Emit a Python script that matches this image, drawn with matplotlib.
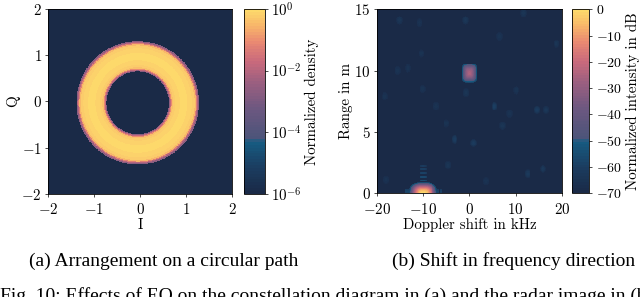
import numpy as np
import matplotlib
matplotlib.use("Agg")
import matplotlib.pyplot as plt
from matplotlib.colors import LinearSegmentedColormap, LogNorm, Normalize

plt.rcParams['font.family'] = 'serif'
plt.rcParams['font.serif'] = ['cmr10']
plt.rcParams['mathtext.fontset'] = 'cm'
plt.rcParams['axes.formatter.use_mathtext'] = True
plt.rcParams['font.size'] = 10.8
plt.rcParams['axes.linewidth'] = 0.6

# (a) ring density: centre, radial bin edges and normalized density per bin
ring_center = (-0.05, -0.03)
ring_r_edges = [0.68, 0.70, 0.72, 0.74, 0.77, 0.82, 0.92, 1.08, 1.18, 1.24, 1.27, 1.29, 1.31, 1.33]
ring_density = [2e-3, 1.5e-2, 0.08, 0.35, 0.6, 0.8, 0.95, 0.8, 0.6, 0.3, 0.06, 1e-2, 2e-3]

# (b) range-doppler map: main peaks (doppler kHz, range m, level dB)
peak_doppler = [-10, 0]
peak_range = [0, 9.8]
peak_level = [0, -25]
# weak spots in the background
spot_doppler = [5.4, 16.6, -3.2, 0.9, 7.1, -0.8, 12.6, 15.9, -15.1, -10.8, -0.9,
                11.7, 18.8, -15.5, -13.3, -10.1, -18.3, -7.2, -5.0, -10.4, 6.5, 8.7,
                -4.6, -18.0, 10.1, 3.6, 14.6]
spot_range = [7.1, 6.8, 4.4, 4.1, 5.5, 8.2, 1.6, 2.0, 14.1, 13.9, 14.1,
              14.7, 12.2, 10.0, 10.2, 8.5, 7.9, 7.1, 5.7, 11.4, 12.8, 6.5,
              2.3, 1.1, 8.4, 1.0, 6.8]
spot_level = [-59, -63, -60, -61, -64, -64, -62, -62, -64, -65, -63,
              -64, -64, -65, -65, -65, -65, -65, -65, -65, -65, -65,
              -64, -65, -65, -65, -60]
# sidelobes of the strong target
sidelobe_doppler = [-10, -10, -10, -10, -10, -13.8, -13.2, -12.6, -7.4, -6.8, -6.2]
sidelobe_range = [1.05, 1.35, 1.65, 1.95, 2.25, 0.15, 0.15, 0.15, 0.15, 0.15, 0.15]
sidelobe_level = [-54, -55, -57, -58, -60, -56, -56, -57, -56, -56, -57]

cmap = LinearSegmentedColormap.from_list('eo', [
    (0.0, '#1a2a47'), (0.14, '#1b3d60'), (0.285, '#165d84'),
    (0.287, '#4a5479'), (0.45, '#6a5780'), (0.6, '#9a5f80'),
    (0.72, '#c96a7c'), (0.83, '#ea8a72'), (0.91, '#f7b46a'), (1.0, '#fdd96b')], N=64)
cmap.set_under('#1a2a47')

fig = plt.figure(figsize=(6.4, 2.97), dpi=100)

# ---- (a) ----
ax1 = fig.add_axes([0.075, 0.347, 0.2875, 0.623])
ax1.set_facecolor(cmap(0))
theta = np.linspace(0, 2 * np.pi, 361)
R, T = np.meshgrid(ring_r_edges, theta, indexing='ij')
C = np.tile(np.array(ring_density)[:, None], (1, len(theta) - 1))
norm1 = LogNorm(1e-6, 1)
m1 = ax1.pcolormesh(ring_center[0] + R * np.cos(T), ring_center[1] + R * np.sin(T), C,
                    cmap=cmap, norm=norm1, shading='flat')
ax1.set_xlim(-2, 2)
ax1.set_ylim(-2, 2)
ax1.set_xticks([-2, -1, 0, 1, 2])
ax1.set_yticks([-2, -1, 0, 1, 2])
ax1.set_xlabel('I', labelpad=1)
ax1.set_ylabel('Q', labelpad=1)
cax1 = fig.add_axes([0.381, 0.347, 0.033, 0.623])
cb1 = fig.colorbar(m1, cax=cax1)
cb1.set_ticks([1e-6, 1e-4, 1e-2, 1])
cb1.minorticks_off()
cb1.set_label('Normalized density', labelpad=2)
cb1.outline.set_linewidth(0.6)

# ---- (b) ----
ax2 = fig.add_axes([0.589, 0.349, 0.289, 0.62])
dop = np.linspace(-20, 20, 201)
rng = np.linspace(0, 15, 201)
D, Rg = np.meshgrid((dop[:-1] + dop[1:]) / 2, (rng[:-1] + rng[1:]) / 2)
Z = np.full(D.shape, -70.0)


def add_blob(Z, x0, y0, lv, wx, wy, edge, p):
    d = ((np.abs(D - x0) / wx) ** p + (np.abs(Rg - y0) / wy) ** p) ** (1 / p)
    return np.maximum(Z, np.where(d <= 1, lv - (lv - edge) * d ** 2, -70))


for x0, y0, lv in zip(peak_doppler, peak_range, peak_level):
    if lv > -10:
        Z = add_blob(Z, x0, y0, lv, 3.0, 0.9, -60, 3)
    else:
        Z = add_blob(Z, x0, y0, lv, 1.7, 0.8, -60, 4)
for x0, y0, lv in zip(spot_doppler, spot_range, spot_level):
    Z = add_blob(Z, x0, y0, lv, 0.7, 0.35, -68, 2)
for x0, y0, lv in zip(sidelobe_doppler, sidelobe_range, sidelobe_level):
    wx, wy = (0.9, 0.09) if x0 == -10 else (0.2, 0.3)
    Z = add_blob(Z, x0, y0, lv, wx, wy, lv - 6, 2)
m2 = ax2.pcolormesh(dop, rng, Z, cmap=cmap, norm=Normalize(-70, 0), shading='flat')
ax2.set_xlim(-20, 20)
ax2.set_ylim(0, 15)
ax2.set_xticks([-20, -10, 0, 10, 20])
ax2.set_yticks([0, 5, 10, 15])
ax2.set_xlabel('Doppler shift in kHz', labelpad=1)
ax2.set_ylabel('Range in m', labelpad=1)
cax2 = fig.add_axes([0.894, 0.349, 0.027, 0.62])
cb2 = fig.colorbar(m2, cax=cax2)
cb2.set_ticks(np.arange(-70, 1, 10))
cb2.set_label('Normalized intensity in dB', labelpad=3)
cb2.outline.set_linewidth(0.6)

for a in (ax1, ax2, cax1, cax2):
    a.tick_params(length=2.5, width=0.5, pad=2)
for a in (ax1, ax2):
    a.tick_params(axis='x', pad=3.5)
cax2.tick_params(labelsize=10)

fig.text(0.255, 1 - 261 / 297, '(a) Arrangement on a circular path', ha='center', va='center',
         family='Liberation Serif', fontsize=14)
fig.text(0.802, 1 - 261 / 297, '(b) Shift in frequency direction', ha='center', va='center',
         family='Liberation Serif', fontsize=14)
fig.text(0.0, 1 - 287 / 297,
         'Fig. 10: Effects of EO on the constellation diagram in (a) and the radar image in (b)',
         ha='left', va='top', family='Liberation Serif', fontsize=14)

fig.savefig('out.png', dpi=100)
